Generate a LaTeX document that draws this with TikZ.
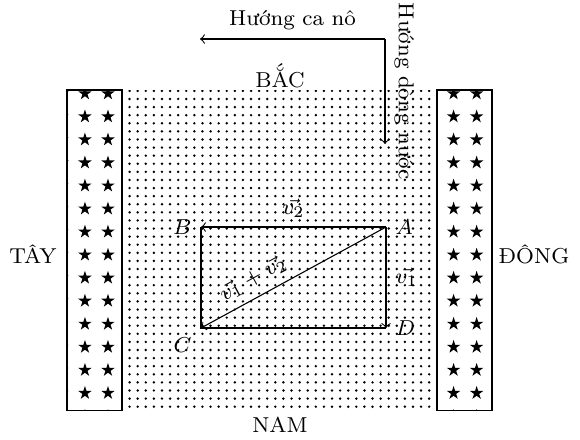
\documentclass[tikz,border=0pt]{standalone}
\usepackage{fontspec}
\usepackage{amsmath}
\usetikzlibrary{patterns}
\newcommand{\sao}[2]{\fill (#1,#2) +(90:0.092) -- +(234:0.092) -- +(18:0.092) -- +(162:0.092) -- +(306:0.092) -- cycle;}

\begin{document}
\begin{tikzpicture}[font=\footnotesize]
  \useasboundingbox (-0.872,-0.378) rectangle (6.68,5.339);
  % river
  \fill[pattern=dots] (0.716,0) rectangle (4.818,4.167);
  % banks with stars
  \begin{scope}
    \clip (0,0) rectangle (0.716,4.167);
    \foreach \i in {-1,0,1} \foreach \j in {-1,...,13} {\sao{0.234+0.3*\i}{0.221+0.3*\j}}
  \end{scope}
  \begin{scope}
    \clip (4.818,0) rectangle (5.534,4.167);
    \foreach \i in {-1,0,1} \foreach \j in {-1,...,13} {\sao{5.034+0.3*\i}{0.221+0.3*\j}}
  \end{scope}
  \draw (0,0) rectangle (0.716,4.167);
  \draw (4.818,0) rectangle (5.534,4.167);
  % directions
  \node (tay)  at (-0.443,2.03) {TÂY};
  \node (dong) at (6.081,2.03)  {ĐÔNG};
  \node (bac)  at (2.773,4.35)  {BẮC};
  \node (nam)  at (2.773,-0.195) {NAM};
  % canoe and current
  \coordinate (goc) at (4.141,4.831);
  \coordinate (cano) at (1.732,4.831);
  \coordinate (dongnuoc) at (4.141,3.464);
  \draw[->] (goc) -- (cano) node[midway,above] (lblcano) {Hướng ca nô};
  \draw[->] (goc) -- (dongnuoc) node[midway,rotate=-90,anchor=south] (lbldong) {Hướng dòng nước};
  % velocity rectangle
  \coordinate (A) at (4.154,2.383);
  \coordinate (B) at (1.745,2.383);
  \coordinate (C) at (1.745,1.068);
  \coordinate (D) at (4.154,1.068);
  \draw (B) -- (C) -- (D);
  \draw[->] (A) -- (B) node[midway,above] (lblvb) {$\vec{v_2}$};
  \draw[->] (A) -- (D) node[midway,right] (lblvd) {$\vec{v_1}$};
  \draw[->] (A) -- (C);
  \path (C) -- (A) node[pos=0.33,sloped,above] (lblvc) {$\vec{v_1}+\vec{v_2}$};
  \node[right] (lA) at (A) {$A$};
  \node[left] (lB) at (B) {$B$};
  \node[below left] (lC) at (C) {$C$};
  \node[right] (lD) at (D) {$D$};
\end{tikzpicture}
\end{document}
